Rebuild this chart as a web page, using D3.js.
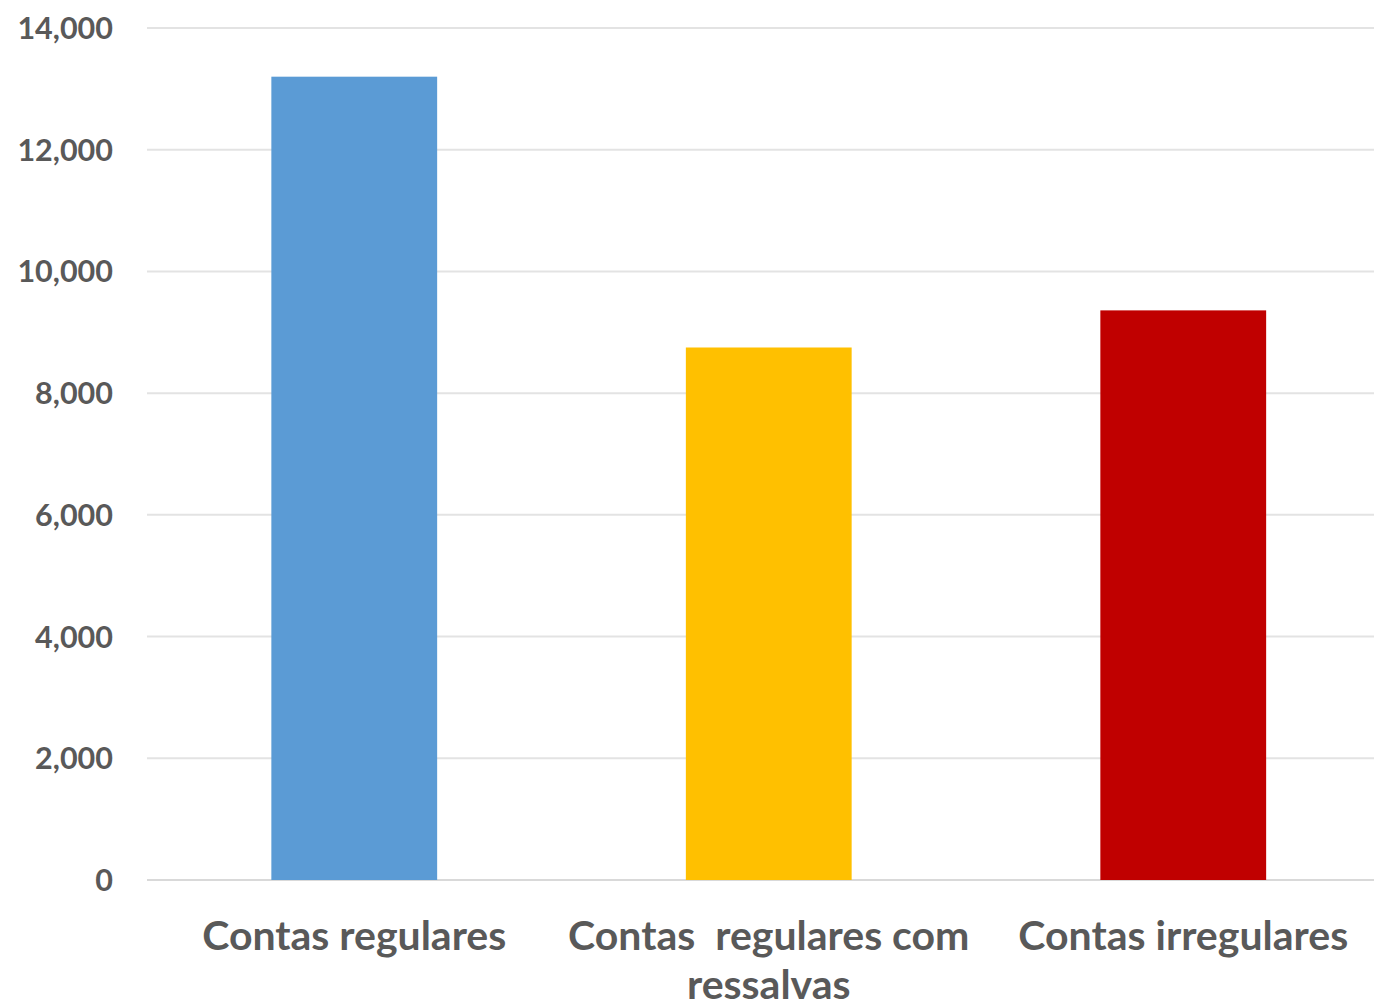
<!DOCTYPE html>
<html>
<head>
<meta charset="utf-8">
<script src="https://cdn.jsdelivr.net/npm/d3@7"></script>
<style>
  html, body { margin: 0; padding: 0; background: #ffffff; }
  svg { display: block; }
  text { font-family: Lato, "Open Sans", sans-serif; font-weight: 700; fill: #595959; }
</style>
</head>
<body>
<div id="chart"></div>
<script>
// Categories (each label split into its display lines) and values
const categories = ["Contas regulares", "Contas  regulares com ressalvas", "Contas irregulares"];
const categoryLines = [["Contas regulares"], ["Contas\u00a0\u00a0regulares com", "ressalvas"], ["Contas irregulares"]];
const values = [13200, 8750, 9360];
const colors = ["#5b9bd5", "#ffc000", "#c00000"];
const tickValues = [0, 2000, 4000, 6000, 8000, 10000, 12000, 14000];

const W = 1374, H = 1008;
const svg = d3.select("#chart").append("svg").attr("width", W).attr("height", H);

const y = d3.scaleLinear().domain([0, 14000]).range([880, 28]);
const x = d3.scaleBand().domain(categories).range([147, 1390.5])
  .paddingInner(0.6).paddingOuter(0.3);

// Horizontal gridlines
svg.append("g").selectAll("line").data(tickValues).join("line")
  .attr("x1", 147).attr("x2", W)
  .attr("y1", d => y(d)).attr("y2", d => y(d))
  .attr("stroke", d => d === 0 ? "#d9d9d9" : "#e3e3e3").attr("stroke-width", 2);

// Value axis labels
const fmt = d3.format(",");
svg.append("g").selectAll("text").data(tickValues).join("text")
  .attr("x", 113).attr("y", d => y(d)).attr("dy", "0.36em")
  .attr("text-anchor", "end").attr("font-size", 30.5)
  .text(d => fmt(d));

// Bars
svg.append("g").selectAll("rect").data(values).join("rect")
  .attr("x", (d, i) => x(categories[i]))
  .attr("width", x.bandwidth())
  .attr("y", d => y(d))
  .attr("height", d => y(0) - y(d))
  .attr("fill", (d, i) => colors[i]);

// Category labels
const lab = svg.append("g").selectAll("text").data(categories).join("text")
  .attr("x", d => x(d) + x.bandwidth() / 2)
  .attr("y", 950)
  .attr("text-anchor", "middle").attr("font-size", 41);
lab.each(function(d, i) {
  d3.select(this).selectAll("tspan").data(categoryLines[i]).join("tspan")
    .attr("x", x(d) + x.bandwidth() / 2)
    .attr("dy", (t, j) => j === 0 ? 0 : 49)
    .text(t => t);
});
</script>
</body>
</html>
